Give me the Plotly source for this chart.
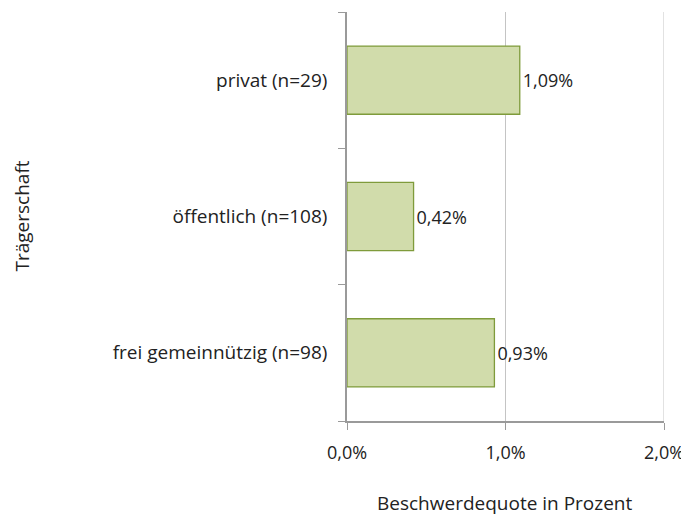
import plotly.graph_objects as go

categories = ["frei gemeinnützig (n=98)", "öffentlich (n=108)", "privat (n=29)"]
values = [0.93, 0.42, 1.09]
x_ticks = [0, 1, 2]
x_tick_labels = ["0,0%", "1,0%", "2,0%"]
y_title = "Trägerschaft"
x_title = "Beschwerdequote in Prozent"

FONT = "Open Sans, Lato, sans-serif"

# page body has an 8px default margin, so the figure is drawn 8px in
OFF = 8
W, H = 689 - OFF, 515 - OFF
L, R, T = 347 - OFF, 25, 12 - OFF
PW, PH = 317, 409
B = H - T - PH

fig = go.Figure()
fig.add_trace(go.Bar(
    y=categories, x=values, orientation="h",
    marker=dict(color="#d1dcab", line=dict(color="#7f9b3b", width=1.3)),
    width=0.5,
    text=[f"{v:.2f}".replace(".", ",") + "%" for v in values],
    textposition="outside", cliponaxis=False,
    textfont=dict(family=FONT, size=18, color="#222222"),
))

# gridline at the right end of the axis (plotly drops it at the plot edge)
fig.add_shape(type="line", xref="x", yref="paper", x0=x_ticks[-1], x1=x_ticks[-1],
              y0=0, y1=1, line=dict(color="#c4c4c4", width=1), layer="below")

fig.update_layout(
    width=W, height=H,
    margin=dict(l=L, r=R, t=T, b=B, autoexpand=False),
    plot_bgcolor="white", paper_bgcolor="white",
    showlegend=False,
    font=dict(family=FONT, size=18, color="#222222"),
    xaxis=dict(
        range=[0, 2], tickvals=x_ticks, ticktext=x_tick_labels,
        showgrid=True, gridcolor="#c4c4c4", gridwidth=1,
        showline=True, linecolor="#9a9a9a", linewidth=1.5,
        ticks="outside", ticklen=7, tickcolor="#9a9a9a",
        tickfont=dict(size=18), zeroline=False, automargin=False,
        ticklabelstandoff=8,
    ),
    yaxis=dict(
        type="category", categoryorder="array", categoryarray=categories,
        tickson="boundaries", ticks="outside", ticklen=7, tickcolor="#9a9a9a",
        showline=True, linecolor="#9a9a9a", linewidth=1.5,
        showgrid=False, tickfont=dict(size=19), automargin=False,
        ticklabelstandoff=14,
    ),
    annotations=[
        dict(text=y_title, xref="paper", yref="paper", x=(21 - 347) / PW, y=0.5,
             textangle=-90, showarrow=False, font=dict(size=19),
             xanchor="center", yanchor="middle"),
        dict(text=x_title, xref="paper", yref="paper", x=(505 - 347) / PW,
             y=-(503 - 421) / PH,
             showarrow=False, font=dict(size=19), xanchor="center", yanchor="middle"),
    ],
)

fig.write_html("out.html")
